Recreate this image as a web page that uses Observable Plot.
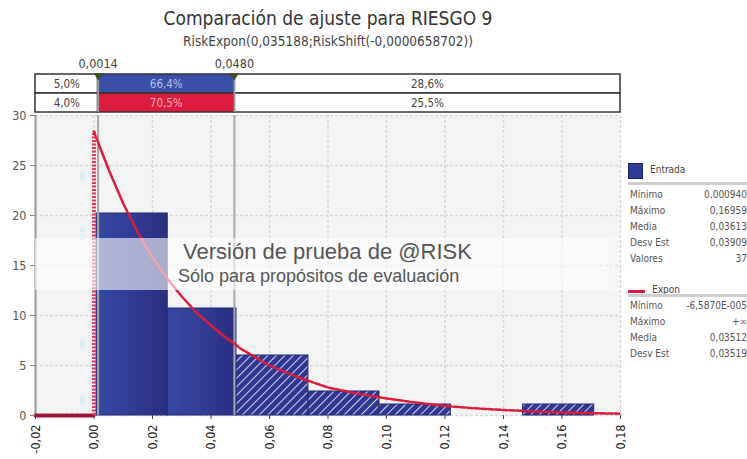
<!DOCTYPE html>
<html><head><meta charset="utf-8">
<script src="https://cdn.jsdelivr.net/npm/d3@7"></script>
<script src="https://cdn.jsdelivr.net/npm/@observablehq/plot@0.6"></script>
<style>
html,body{margin:0;padding:0;background:#fff;}
body{width:747px;height:459px;position:relative;overflow:hidden;font-family:"DejaVu Sans Condensed","DejaVu Sans",sans-serif;}
.abs{position:absolute;}
#title{left:0;width:656px;top:6px;text-align:center;font-size:19px;color:#333;line-height:24px;}
#subtitle{left:0;width:656px;top:33px;text-align:center;font-size:13.5px;color:#444;line-height:16px;}
#band{left:0;top:50px;}
#main{left:0;top:105px;}
#wm{left:35px;top:238px;width:585px;height:52px;background:linear-gradient(90deg,rgba(255,255,255,0.6) 0%,rgba(255,255,255,0.6) 96%,rgba(255,255,255,0.2) 100%);}
#wm1{left:183px;top:241px;font-family:"Liberation Sans",Arial,sans-serif;font-size:22px;line-height:22px;color:#555;white-space:nowrap;}
#wm2{left:178px;top:266px;font-family:"Liberation Sans",Arial,sans-serif;font-size:18px;line-height:20px;color:#555;white-space:nowrap;}
.leg{position:absolute;left:628px;width:119px;font-size:10px;color:#555;}
.row{position:absolute;left:2px;width:117px;height:14px;white-space:nowrap;}
.row .v{position:absolute;right:0;}
.sep{position:absolute;left:0;width:119px;height:3px;background:#cfcfcf;}
</style>
</head><body>
<div id="title" class="abs"></div>
<div id="subtitle" class="abs"></div>
<div id="band" class="abs"></div>
<div id="main" class="abs"></div>
<div id="wm" class="abs"></div>
<div id="wm1" class="abs"></div>
<div id="wm2" class="abs"></div>
<div id="legend"></div>
<script>
// ---- data ----
const titleText = "Comparación de ajuste para RIESGO 9";
const subtitleText = "RiskExpon(0,035188;RiskShift(-0,0000658702))";
const watermark = ["Versión de prueba de @RISK", "Sólo para propósitos de evaluación"];

const xTicks = [-0.02, 0, 0.02, 0.04, 0.06, 0.08, 0.10, 0.12, 0.14, 0.16, 0.18];
const yTicks = [0, 5, 10, 15, 20, 25, 30];

// histogram bins (Entrada)
const binX1 = [0.0009, 0.0252, 0.0487, 0.0733, 0.0976, 0.1220, 0.1467];
const binX2 = [0.0252, 0.0487, 0.0733, 0.0976, 0.1220, 0.1467, 0.1710];
const binDensity = [20.2, 10.7, 6.0, 2.4, 1.1, 0, 1.1];

// fitted Expon curve
const fitX = [0, 0.0014, 0.005, 0.010, 0.015, 0.020, 0.025, 0.030, 0.035, 0.040, 0.045, 0.048,
              0.050, 0.060, 0.070, 0.080, 0.090, 0.100, 0.110, 0.120, 0.130, 0.140, 0.150, 0.160, 0.170, 0.180];
const fitY = [28.4, 27.3, 24.6, 21.2, 18.3, 15.8, 13.7, 11.9, 10.3, 9.0, 7.8, 7.2,
              6.7, 5.0, 3.8, 2.8, 2.2, 1.7, 1.3, 0.95, 0.72, 0.55, 0.41, 0.31, 0.24, 0.18];
const fitLeftX = [-0.02, 0];
const fitLeftY = [0, 0];

// delimiters and band
const delimiters = [0.0014, 0.048];
const delimLabels = ["0,0014", "0,0480"];
const bandEdges = [-0.02, 0.0014, 0.048, 0.18];
const bandRows = ["Entrada", "Expon"];
const bandEntrada = ["5,0%", "66,4%", "28,6%"];
const bandExpon = ["4,0%", "70,5%", "25,5%"];

// legend stats
const statLabels1 = ["Mínimo", "Máximo", "Media", "Desv Est", "Valores"];
const statValues1 = ["0,000940", "0,16959", "0,03613", "0,03909", "37"];
const statLabels2 = ["Mínimo", "Máximo", "Media", "Desv Est"];
const statValues2 = ["-6,5870E-005", "+∞", "0,03512", "0,03519"];

// ---- build ----
const FONT = "'DejaVu Sans Condensed','DejaVu Sans',sans-serif";
const BLUE = "#3a50a8", RED = "#dc1b3d";
const fmt = d => (Math.abs(d) < 1e-9 ? 0 : d).toFixed(2).replace(".", ",");

document.getElementById("title").textContent = titleText;
document.getElementById("subtitle").textContent = subtitleText;
document.getElementById("wm1").textContent = watermark[0];
document.getElementById("wm2").textContent = watermark[1];

// band
const cells = [];
bandRows.forEach((r, ri) => {
  const labs = ri === 0 ? bandEntrada : bandExpon;
  labs.forEach((t, i) => cells.push({row: r, x1: bandEdges[i], x2: bandEdges[i + 1], label: t,
    fill: i === 1 ? (ri === 0 ? BLUE : RED) : "#ffffff",
    color: i === 1 ? (ri === 0 ? "#b9c0e6" : "#f4b3c2") : "#444"}));
});
const delims = delimiters.map((x, i) => ({x, label: delimLabels[i]}));

const band = Plot.plot({
  width: 747, height: 63, marginLeft: 35, marginRight: 127, marginTop: 23, marginBottom: 1,
  x: {domain: [-0.02, 0.18], axis: null},
  y: {domain: bandRows, axis: null, padding: 0},
  style: {fontFamily: FONT, fontSize: "11px", overflow: "visible"},
  marks: [
    Plot.rect(cells, {x1: "x1", x2: "x2", y: "row", fill: d => d.fill, stroke: "#333", strokeWidth: 1.5}),
    Plot.ruleX(delims, {x: "x", stroke: "#9a9a9a", strokeWidth: 2}),
    Plot.text(cells, {x: d => (d.x1 + d.x2) / 2, y: "row", text: "label", fill: d => d.color, fontSize: 11.5}),
    Plot.text(delims, {x: "x", frameAnchor: "top", dy: -14, text: "label", fill: "#444", fontSize: 12.5}),
    Plot.dot(delims, {x: "x", frameAnchor: "top", dy: 2, symbol: "triangle", rotate: 180, r: 3.2, fill: "#3f4f1c", stroke: "none"})
  ]
});
document.getElementById("band").appendChild(band);

// main
const bins = binX1.map((x1, i) => ({x1, x2: binX2[i], y: binDensity[i]}));
const fit = fitX.map((x, i) => ({x, y: fitY[i]}));
const fitSolid = fit.filter(d => d.x >= delimiters[0] && d.x <= delimiters[1]);
const fitDashR = fit.filter(d => d.x >= delimiters[1]);
const fitDashL = fit.filter(d => d.x <= delimiters[0]);
const fitLeft = fitLeftX.map((x, i) => ({x, y: fitLeftY[i]}));

const defs = () => {
  const g = d3.create("svg:defs");
  const grad = g.append("linearGradient").attr("id", "solidGrad").attr("x1", 0).attr("x2", 1).attr("y1", 0).attr("y2", 0);
  grad.append("stop").attr("offset", "0%").attr("stop-color", "#3549a3");
  grad.append("stop").attr("offset", "100%").attr("stop-color", "#2a2f82");
  const pat = g.append("pattern").attr("id", "hatch").attr("patternUnits", "userSpaceOnUse")
    .attr("width", 6).attr("height", 6).attr("patternTransform", "rotate(45)");
  pat.append("rect").attr("width", 6).attr("height", 6).attr("fill", "#2e3892");
  pat.append("line").attr("x1", 0).attr("y1", 0).attr("x2", 0).attr("y2", 6).attr("stroke", "#ffffff").attr("stroke-width", 1.6);
  return g.node();
};

const main = Plot.plot({
  width: 747, height: 354, marginLeft: 35, marginRight: 127, marginTop: 10, marginBottom: 44,
  x: {domain: [-0.02, 0.18], ticks: xTicks, tickFormat: fmt, tickRotate: -90, label: null, tickSize: 4},
  y: {domain: [0, 30], ticks: yTicks, label: null, tickSize: 5},
  style: {fontFamily: FONT, fontSize: "12px", color: "#444", overflow: "visible"},
  marks: [
    defs,
    Plot.frame({fill: "#f2f3f3", stroke: "none"}),
    Plot.gridX(xTicks, {stroke: "#d6d6d6", strokeOpacity: 1, strokeDasharray: "3,2", strokeWidth: 1.5}),
    Plot.gridY(yTicks, {stroke: "#d6d6d6", strokeOpacity: 1, strokeDasharray: "3,2", strokeWidth: 1.5}),
    Plot.ruleX([-0.02], {stroke: "#999", strokeWidth: 2}),
    Plot.rectY(bins.filter(d => d.x1 < delimiters[1]), {x1: "x1", x2: "x2", y: "y", fill: "url(#solidGrad)", stroke: "#25296e", strokeWidth: 1}),
    Plot.rectY(bins.filter(d => d.x1 >= delimiters[1]), {x1: "x1", x2: "x2", y: "y", fill: "url(#hatch)", stroke: "#25296e", strokeWidth: 1}),
    Plot.ruleX(delimiters, {stroke: "#a8a8a8", strokeWidth: 2}),
    Plot.line(fitLeft, {x: "x", y: "y", stroke: "#a0163a", strokeWidth: 4, strokeDasharray: "3,2"}),
    Plot.ruleX([fitX[0]], {y1: 0, y2: fitY[0], stroke: "#ec3558", strokeWidth: 4, strokeDasharray: "2,1.5"}),
    Plot.line(fitDashL, {x: "x", y: "y", stroke: RED, strokeWidth: 2.5, strokeDasharray: "4,2"}),
    Plot.line(fitSolid, {x: "x", y: "y", stroke: RED, strokeWidth: 2.5}),
    Plot.line(fitDashR, {x: "x", y: "y", stroke: RED, strokeWidth: 2.5, strokeDasharray: "5,2"}),
    Plot.axisY(yTicks, {tickSize: 5, stroke: "#888", fill: "#555", fontSize: 12.5}),
    Plot.axisX(xTicks, {tickFormat: fmt, tickRotate: -90, tickSize: 4, fill: "#222", fontSize: 12.5})
  ]
});
document.getElementById("main").appendChild(main);

// legend
const leg = document.getElementById("legend");
function addLegend(top, kind, name, labels, values) {
  const box = document.createElement("div");
  box.className = "leg";
  box.style.top = top + "px";
  box.style.height = (34 + labels.length * 16) + "px";
  let html = "";
  if (kind === "box") html += `<div style="position:absolute;left:0;top:0;width:13px;height:14px;background:#2d3d98;border:1px solid #1c2266"></div>`;
  else html += `<div style="position:absolute;left:0;top:7px;width:17px;height:3px;background:${RED}"></div>`;
  html += `<div style="position:absolute;left:${kind === "box" ? 22 : 24}px;top:1px;font-size:10px;color:#444">${name}</div>`;
  html += `<div class="sep" style="top:${kind === "box" ? 19 : 11}px"></div>`;
  const start = kind === "box" ? 26 : 17;
  labels.forEach((l, i) => {
    html += `<div class="row" style="top:${start + i * 16}px"><span>${l}</span><span class="v">${values[i]}</span></div>`;
  });
  box.innerHTML = html;
  leg.appendChild(box);
}
addLegend(163, "box", "Entrada", statLabels1, statValues1);
addLegend(283, "line", "Expon", statLabels2, statValues2);
</script>
</body></html>
